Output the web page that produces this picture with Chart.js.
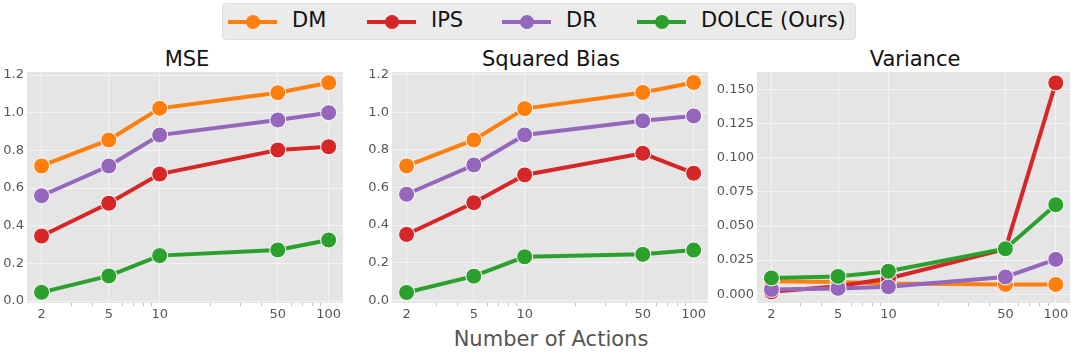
<!DOCTYPE html>
<html>
<head>
<meta charset="utf-8">
<script src="https://cdn.jsdelivr.net/npm/chart.js@4/dist/chart.umd.min.js"></script>
<style>
  body { margin: 0; background: #fff; font-family: "DejaVu Sans", sans-serif; }
  #wrap { position: relative; width: 1079px; height: 355px; overflow: hidden; }
  canvas { position: absolute; top: 0; }
  .txt { position: absolute; font-size: 21px; line-height: 21px; white-space: nowrap; }
  .title { color: #111; transform: translateX(-50%); top: 49px; }
  #legend { position: absolute; left: 222px; top: 3px; width: 634px; height: 37px;
            background: #ebebeb; border: 1px solid #dedede; border-radius: 4px; box-sizing: border-box; }
  .hline { position: absolute; top: 16px; height: 4px; width: 49px; }
  .hdot { position: absolute; top: 11px; width: 14px; height: 14px; border-radius: 50%; }
  .ltxt { position: absolute; top: 6px; font-size: 21px; line-height: 21px; color: #111; white-space: nowrap; }
</style>
</head>
<body>
<div id="wrap">
  <div id="legend"></div>
  <div class="txt title" style="left:187px">MSE</div>
  <div class="txt title" style="left:551px">Squared Bias</div>
  <div class="txt title" style="left:915px">Variance</div>
  <div class="txt" style="left:551px; top:329px; transform:translateX(-50%); color:#555">Number of Actions</div>
  <canvas id="c1" width="352" height="355" style="left:0px"></canvas>
  <canvas id="c2" width="365" height="355" style="left:352px"></canvas>
  <canvas id="c3" width="362" height="355" style="left:717px"></canvas>
</div>
<script>
const actions = [2, 5, 10, 50, 100];
const methods = ["DM", "IPS", "DR", "DOLCE (Ours)"];
const colors = ["#ff7f0e", "#d62728", "#9467bd", "#2ca02c"];

const mseDM    = [0.717, 0.855, 1.023, 1.106, 1.159];
const mseIPS   = [0.345, 0.519, 0.674, 0.802, 0.819];
const mseDR    = [0.559, 0.717, 0.881, 0.961, 1.000];
const mseDOLCE = [0.046, 0.133, 0.241, 0.271, 0.324];

const biasDM    = [0.715, 0.853, 1.020, 1.106, 1.159];
const biasIPS   = [0.350, 0.519, 0.667, 0.782, 0.676];
const biasDR    = [0.564, 0.720, 0.880, 0.955, 0.981];
const biasDOLCE = [0.041, 0.128, 0.231, 0.244, 0.267];

const varDM    = [0.0095, 0.0090, 0.0078, 0.0071, 0.0071];
const varIPS   = [0.0017, 0.0058, 0.0115, 0.0330, 0.1550];
const varDR    = [0.0034, 0.0042, 0.0054, 0.0126, 0.0255];
const varDOLCE = [0.0119, 0.0130, 0.0168, 0.0333, 0.0656];

const xTicks = [2, 3, 4, 5, 6, 7, 8, 9, 10, 20, 30, 40, 50, 60, 70, 80, 90, 100];
const xLabels = [2, 5, 10, 50, 100];
const yTicksBias = [0, 0.2, 0.4, 0.6, 0.8, 1.0, 1.2];
const yTicksVar = [0, 0.025, 0.05, 0.075, 0.1, 0.125, 0.15];

// legend (html)
const legendPos = [228, 367, 502, 637];
const legend = document.getElementById("legend");
methods.forEach((m, i) => {
  const x = legendPos[i] - 223;
  legend.innerHTML +=
    `<div class="hline" style="left:${x}px;background:${colors[i]}"></div>` +
    `<div class="hdot" style="left:${x + 18}px;background:${colors[i]}"></div>` +
    `<div class="ltxt" style="left:${x + 64}px">${m}</div>`;
});

const bgPlugin = {
  id: "bg",
  beforeDraw(chart) {
    const a = chart.chartArea, c = chart.ctx;
    c.save();
    c.fillStyle = "#e5e5e5";
    c.fillRect(a.left, a.top, a.right - a.left, a.bottom - a.top);
    c.restore();
  }
};

// keep the plot area where the layout padding puts it
function noPad(s) {
  s.paddingLeft = 0; s.paddingRight = 0; s.paddingTop = 0; s.paddingBottom = 0;
}

function makeChart(id, series, yMin, yMax, yTicks, digits, yWidth, padRight) {
  const datasets = series.map((vals, i) => ({
    label: methods[i],
    data: actions.map((a, j) => ({ x: a, y: vals[j] })),
    borderColor: colors[i],
    backgroundColor: colors[i],
    borderWidth: 4,
    pointRadius: 8,
    pointHoverRadius: 8,
    pointBorderColor: "#ffffff",
    pointBorderWidth: 1,
    order: 4 - i,
    clip: false
  }));
  new Chart(document.getElementById(id), {
    type: "line",
    data: { datasets },
    options: {
      responsive: false,
      animation: false,
      layout: { padding: { top: 72, bottom: 22, left: 0, right: padRight } },
      plugins: { legend: { display: false }, tooltip: { enabled: false } },
      scales: {
        x: {
          type: "logarithmic",
          min: 1.64, max: 121.6,
          afterBuildTicks: s => { s.ticks = xTicks.map(v => ({ value: v })); },
          afterFit: s => { s.height = 30; noPad(s); },
          border: { display: false },
          grid: {
            color: c => xLabels.includes(c.tick.value) ? "#f3f3f3" : "rgba(0,0,0,0)",
            tickColor: c => xLabels.includes(c.tick.value) ? "rgba(0,0,0,0)" : "#c4c4c4",
            tickLength: 3
          },
          ticks: {
            autoSkip: false, maxRotation: 0, padding: 1,
            color: "#555", font: { family: "DejaVu Sans", size: 13 },
            callback: v => xLabels.includes(v) ? String(v) : ""
          }
        },
        y: {
          min: yMin, max: yMax,
          afterBuildTicks: s => { s.ticks = yTicks.map(v => ({ value: v })); },
          afterFit: s => { s.width = yWidth; noPad(s); },
          border: { display: false },
          grid: { color: "#f3f3f3", drawTicks: false },
          ticks: {
            padding: 3, color: "#555", font: { family: "DejaVu Sans", size: 13 },
            callback: v => Number(v).toFixed(digits)
          }
        }
      }
    },
    plugins: [bgPlugin]
  });
}

makeChart("c1", [mseDM, mseIPS, mseDR, mseDOLCE], -0.0106, 1.216, yTicksBias, 1, 27, 5);
makeChart("c2", [biasDM, biasIPS, biasDR, biasDOLCE], -0.015, 1.215, yTicksBias, 1, 40, 7);
makeChart("c3", [varDM, varIPS, varDR, varDOLCE], -0.0065, 0.163, yTicksVar, 3, 40, 6);
</script>
</body>
</html>
